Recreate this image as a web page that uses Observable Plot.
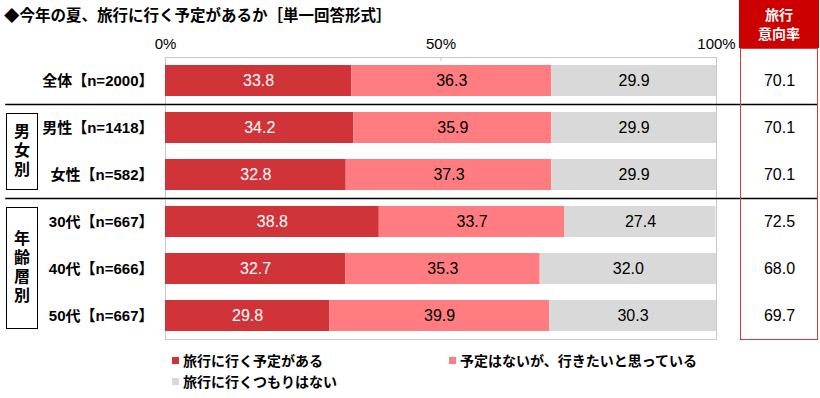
<!DOCTYPE html>
<html><head><meta charset="utf-8">
<script src="https://cdn.jsdelivr.net/npm/d3@7"></script>
<script src="https://cdn.jsdelivr.net/npm/@observablehq/plot@0.6"></script>
<style>
body{margin:0;background:#fff;}
#wrap{position:relative;width:820px;height:398px;overflow:hidden;font-family:"Liberation Sans","Noto Sans CJK JP",sans-serif;color:#000;}
#chart{position:absolute;left:0;top:0;}
.title{position:absolute;left:4px;top:3px;font-family:"Noto Sans CJK JP",sans-serif;font-weight:bold;font-size:15.5px;line-height:22px;white-space:nowrap;}
.hdr{position:absolute;left:739px;top:0;width:80px;height:48px;background:#CC0000;color:#fff;font-family:"Noto Sans CJK JP",sans-serif;font-weight:bold;font-size:14px;line-height:19px;text-align:center;display:flex;flex-direction:column;justify-content:center;}
.valbox{position:absolute;left:740px;top:48px;width:76px;height:290px;border:1.6px solid #D23B3B;}
.grp{position:absolute;left:6px;width:30px;border:1px solid #000;display:flex;justify-content:center;align-items:center;}
.grp span{writing-mode:vertical-rl;text-orientation:upright;font-family:"Noto Sans CJK JP",sans-serif;font-weight:bold;font-size:16px;letter-spacing:3px;line-height:20px;}
.legend{position:absolute;font-family:"Noto Sans CJK JP",sans-serif;font-weight:bold;font-size:14px;line-height:18px;white-space:nowrap;display:flex;align-items:center;}
.legend i{display:inline-block;width:7px;height:7px;margin-right:4px;}
</style></head><body>
<div id="wrap">
  <div id="chart"></div>
  <div class="title" id="title"></div>
  <div class="hdr" id="hdr"></div>
  <div class="valbox"></div>
  <div class="grp" style="top:113px;height:75px;"><span id="g1"></span></div>
  <div class="grp" style="top:207px;height:120px;"><span id="g2"></span></div>
  <div id="legendHolder"></div>
</div>
<script>
const titleText = "◆今年の夏、旅行に行く予定があるか［単一回答形式］";
const categories = ["全体【n=2000】","男性【n=1418】","女性【n=582】","30代【n=667】","40代【n=666】","50代【n=667】"];
const seriesNames = ["旅行に行く予定がある","予定はないが、行きたいと思っている","旅行に行くつもりはない"];
const planned  = [33.8, 34.2, 32.8, 38.8, 32.7, 29.8];
const wantTo   = [36.3, 35.9, 37.3, 33.7, 35.3, 39.9];
const notGoing = [29.9, 29.9, 29.9, 27.4, 32.0, 30.3];
const intentRate = [70.1, 70.1, 70.1, 72.5, 68.0, 69.7];
const intentHeader = ["旅行","意向率"];
const groupLabels = ["男女別","年齢層別"];
const separatorAfter = ["全体【n=2000】","女性【n=582】"];
const xTicks = [0, 50, 100];
const colors = ["#D13438","#FF7C80","#D9D9D9"];

document.getElementById("title").textContent = titleText;
document.getElementById("hdr").innerHTML = intentHeader.map(s=>`<div>${s}</div>`).join("");
document.getElementById("g1").textContent = groupLabels[0];
document.getElementById("g2").textContent = groupLabels[1];

const seriesValues = [planned, wantTo, notGoing];
const rows = [];
categories.forEach((c, i) => {
  let acc = 0;
  seriesValues.forEach((arr, k) => {
    const v = arr[i];
    rows.push({cat: c, series: seriesNames[k], k, value: v, x1: acc, x2: acc + v});
    acc += v;
  });
});
const rates = categories.map((c, i) => ({cat: c, rate: intentRate[i]}));

const font = '"Liberation Sans","Noto Sans CJK JP",sans-serif';
const chart = Plot.plot({
  width: 820, height: 342,
  marginLeft: 165, marginRight: 104, marginTop: 57, marginBottom: 3,
  style: {fontFamily: font, fontSize: "14px", overflow: "visible", background: "transparent"},
  x: {domain: [0, 100], axis: null},
  y: {domain: categories, paddingInner: 0.34, paddingOuter: 0.17, axis: null},
  color: {domain: seriesNames, range: colors},
  marks: [
    Plot.frame({stroke: "#C8C8C8"}),
    Plot.barX(rows, {x1: "x1", x2: "x2", y: "cat", fill: "series"}),
    Plot.ruleX([50], {stroke: "#C8C8C8", insetBottom: 278}),
    Plot.axisX({anchor: "top", ticks: xTicks, tickFormat: d => d + "%", tickSize: 0, tickPadding: 9, fontSize: 15, label: null}),
    Plot.axisY({tickSize: 0, tickPadding: 12, fontSize: 15, fontWeight: "bold", label: null}),
    Plot.text(rows.filter(d => d.k === 0), {x: d => (d.x1 + d.x2) / 2, y: "cat", text: d => d.value.toFixed(1), fill: "white", fontSize: 16}),
    Plot.text(rows.filter(d => d.k !== 0), {x: d => (d.x1 + d.x2) / 2, y: "cat", text: d => d.value.toFixed(1), fill: "black", fontSize: 16}),
    Plot.text(rates, {y: "cat", text: d => d.rate.toFixed(1), frameAnchor: "right", textAnchor: "middle", dx: 63, fill: "black", fontSize: 16}),
    Plot.ruleY(separatorAfter, {y: d => d, dy: 23.5, x1: -29, x2: 118.4, stroke: "#000", strokeWidth: 1.4})
  ]
});
document.getElementById("chart").appendChild(chart);

const legendPos = [{left: 172, top: 351}, {left: 449, top: 351}, {left: 172, top: 372}];
const holder = document.getElementById("legendHolder");
seriesNames.forEach((s, k) => {
  const d = document.createElement("div");
  d.className = "legend";
  d.style.left = legendPos[k].left + "px";
  d.style.top = legendPos[k].top + "px";
  d.innerHTML = `<i style="background:${colors[k]}"></i><span>${s}</span>`;
  holder.appendChild(d);
});
</script>
</body></html>
